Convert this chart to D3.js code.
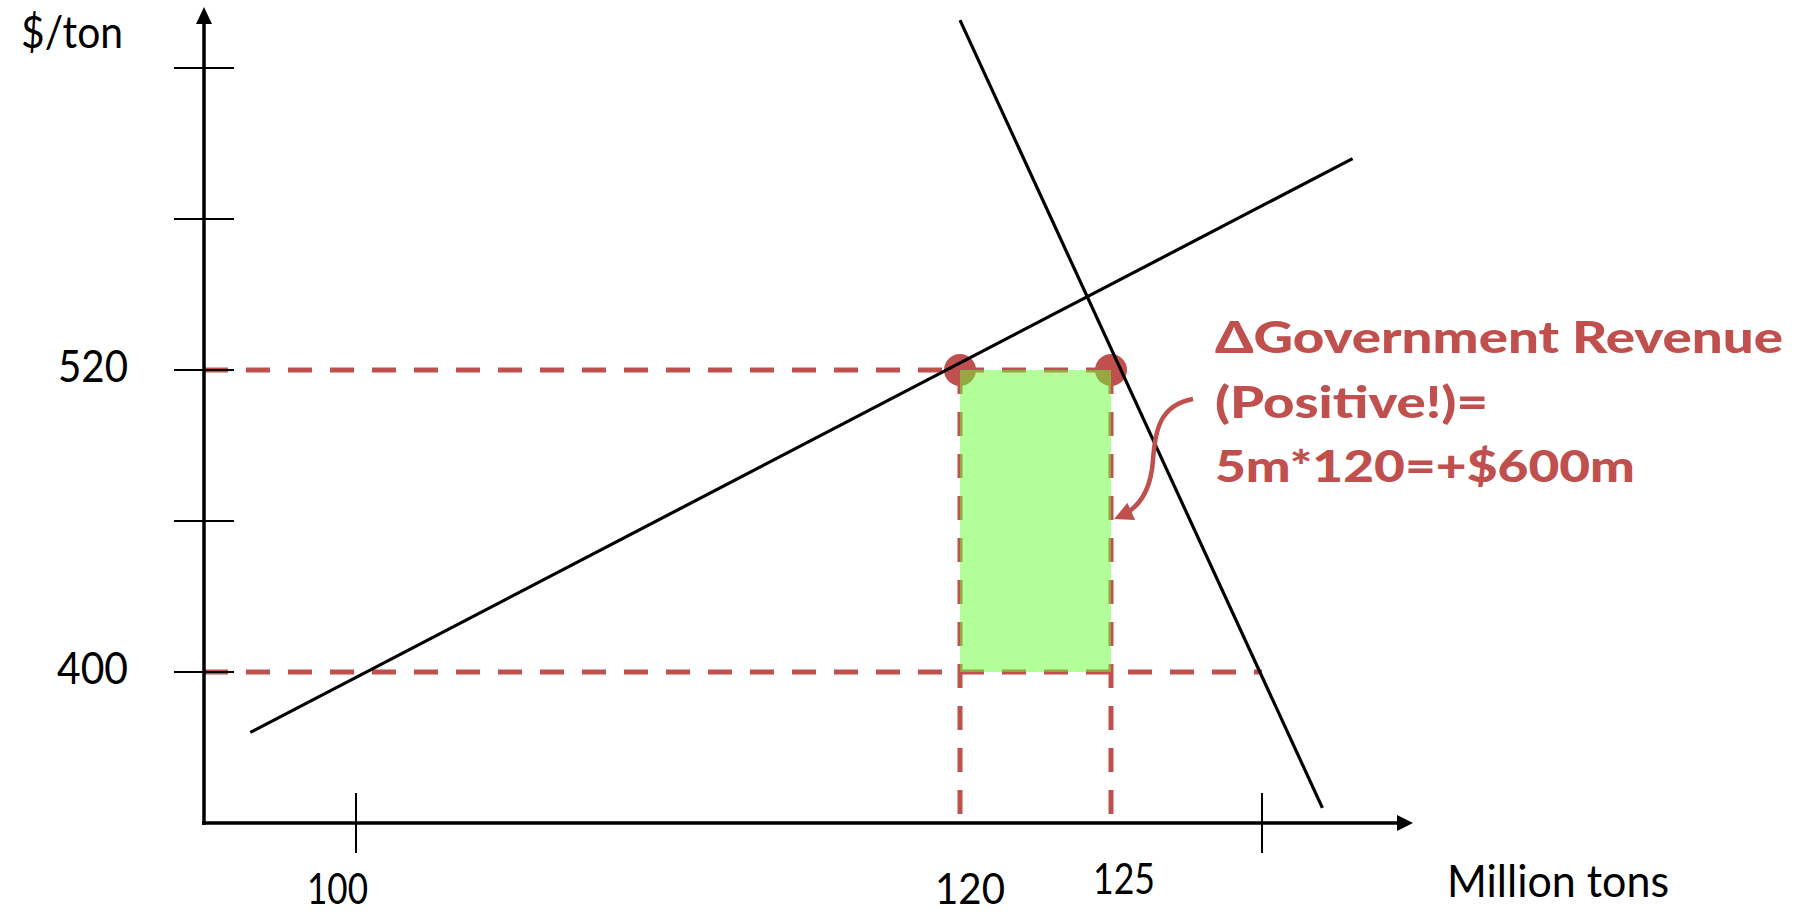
<!DOCTYPE html>
<html>
<head>
<meta charset="utf-8">
<script src="https://cdn.jsdelivr.net/npm/d3@7"></script>
<style>
  html, body { margin: 0; padding: 0; background: #fff; }
  svg { display: block; }
  text { font-family: "Lato", "Open Sans", sans-serif; }
</style>
</head>
<body>
<svg id="chart" width="1805" height="914"></svg>
<script>
// Market for a good: supply / demand and the change in government revenue
const yTickValues = [400, 460, 520, 580, 640];
const yTickLabels = [520, 400];
const xTickValues = [100, 130];
const xTickLabels = [100, 120, 125];

const supplyLine = [{ q: 96.5, p: 376 }, { q: 133, p: 604 }];
const demandLine = [{ q: 120, p: 659 }, { q: 132, p: 346 }];

const priceLevels = [520, 400];          // dashed horizontal guides
const priceGuideEnds = [125, 130];       // quantity where each guide stops
const quantityLevels = [120, 125];       // dashed vertical guides
const revenueBox = { q0: 120, q1: 125, p0: 400, p1: 520 };
const points = [{ q: 120, p: 520 }, { q: 125, p: 520 }];

const noteLines = ["\u0394Government Revenue", "(Positive!)=", "5m*120=+$600m"];
const yTitle = "$/ton";
const xTitle = "Million tons";

const RED = "#C0504D";

const svg = d3.select("#chart");
const x = d3.scaleLinear().domain([95, 130]).range([205, 1262]);
const y = d3.scaleLinear().domain([340, 640]).range([823, 68]);

const originX = x(95) - 1, originY = y(340);

// dashed guides
const dash = "24 18";
const guides = svg.append("g").attr("stroke", RED).attr("stroke-width", 5)
  .attr("stroke-dasharray", dash).attr("fill", "none");
guides.selectAll("line.h").data(priceLevels).join("line")
  .attr("class", "h")
  .attr("x1", originX).attr("x2", (d, i) => x(priceGuideEnds[i]))
  .attr("y1", d => y(d)).attr("y2", d => y(d));
guides.selectAll("line.v").data(quantityLevels).join("line")
  .attr("class", "v")
  .attr("x1", d => x(d)).attr("x2", d => x(d))
  .attr("y1", y(revenueBox.p1)).attr("y2", originY);

// equilibrium points
svg.append("g").selectAll("circle").data(points).join("circle")
  .attr("cx", d => x(d.q)).attr("cy", d => y(d.p)).attr("r", 16)
  .attr("fill", RED);

// revenue rectangle
svg.append("rect")
  .attr("x", x(revenueBox.q0)).attr("y", y(revenueBox.p1))
  .attr("width", x(revenueBox.q1) - x(revenueBox.q0))
  .attr("height", y(revenueBox.p0) - y(revenueBox.p1))
  .attr("fill", "#66FF33").attr("fill-opacity", 0.5);

// supply and demand
const line = d3.line().x(d => x(d.q)).y(d => y(d.p));
svg.append("path").attr("d", line(supplyLine))
  .attr("stroke", "#000").attr("stroke-width", 3.2).attr("fill", "none");
svg.append("path").attr("d", line(demandLine))
  .attr("stroke", "#000").attr("stroke-width", 3.2).attr("fill", "none");

// axes
const axes = svg.append("g");
axes.append("line").attr("x1", originX).attr("x2", originX)
  .attr("y1", originY + 2).attr("y2", 20)
  .attr("stroke", "#000").attr("stroke-width", 3.5);
axes.append("path")
  .attr("d", `M${originX},7 L${originX - 8},24 L${originX + 8},24 Z`)
  .attr("fill", "#000");
axes.append("line").attr("x1", originX - 2).attr("x2", 1400)
  .attr("y1", originY).attr("y2", originY)
  .attr("stroke", "#000").attr("stroke-width", 3.5);
axes.append("path")
  .attr("d", `M1413,${originY} L1397,${originY - 8} L1397,${originY + 8} Z`)
  .attr("fill", "#000");

axes.selectAll("line.yt").data(yTickValues).join("line")
  .attr("class", "yt")
  .attr("x1", originX - 30).attr("x2", originX + 30)
  .attr("y1", d => y(d)).attr("y2", d => y(d))
  .attr("stroke", "#000").attr("stroke-width", 2);
axes.selectAll("line.xt").data(xTickValues).join("line")
  .attr("class", "xt")
  .attr("x1", d => x(d)).attr("x2", d => x(d))
  .attr("y1", originY - 30).attr("y2", originY + 30)
  .attr("stroke", "#000").attr("stroke-width", 2);

// labels
function label(g, txt, lx, ly, len, opts = {}) {
  return g.append("text").text(txt)
    .attr("x", lx).attr("y", ly)
    .attr("font-size", opts.size || 44)
    .attr("font-weight", opts.weight || 400)
    .attr("fill", opts.fill || "#000")
    .attr("textLength", len).attr("lengthAdjust", "spacingAndGlyphs");
}

const labels = svg.append("g");
const yLabelWidth = { 520: 70, 400: 71 };
yTickLabels.forEach(v => label(labels, String(v), 58 - (v === 400 ? 1 : 0), y(v) + 12, yLabelWidth[v]));

const xLabelOffset = { 100: [-49, 904, 61], 120: [-25, 904, 70], 125: [-18, 894, 62] };
xTickLabels.forEach(v => {
  const [dx, by, w] = xLabelOffset[v];
  label(labels, String(v), x(v) + dx, by, w, { size: 42 });
});

label(labels, yTitle, 21, 48, 102);
label(labels, xTitle, 1447, 897, 222);

// annotation
const note = svg.append("g");
const noteWidths = [568, 273, 420];
const noteBaselines = [353, 418, 482];
noteLines.forEach((t, i) => label(note, t, 1215, noteBaselines[i], noteWidths[i],
  { size: 43, weight: 900, fill: RED }));

// curved pointer from the note to the revenue box
const defs = svg.append("defs");
defs.append("marker").attr("id", "head")
  .attr("viewBox", "0 0 10 10").attr("refX", 6).attr("refY", 5)
  .attr("markerWidth", 4.2).attr("markerHeight", 4.2)
  .attr("markerUnits", "strokeWidth").attr("orient", "auto")
  .append("path").attr("d", "M0,0 L10,5 L0,10 Z").attr("fill", RED);

const tipX = x(revenueBox.q1) + 4, tipY = y(460) - 2;
const sx = 1193, sy = 399;
note.append("path")
  .attr("d", `M${sx},${sy} C${sx - 33},${sy + 6} ${sx - 38},${sy + 31} ${sx - 40},${sy + 61}` +
             ` C${sx - 42},${sy + 90} ${sx - 52},${tipY - 12} ${tipX + 6},${tipY - 3}`)
  .attr("stroke", RED).attr("stroke-width", 4.5).attr("fill", "none")
  .attr("marker-end", "url(#head)");
</script>
</body>
</html>
